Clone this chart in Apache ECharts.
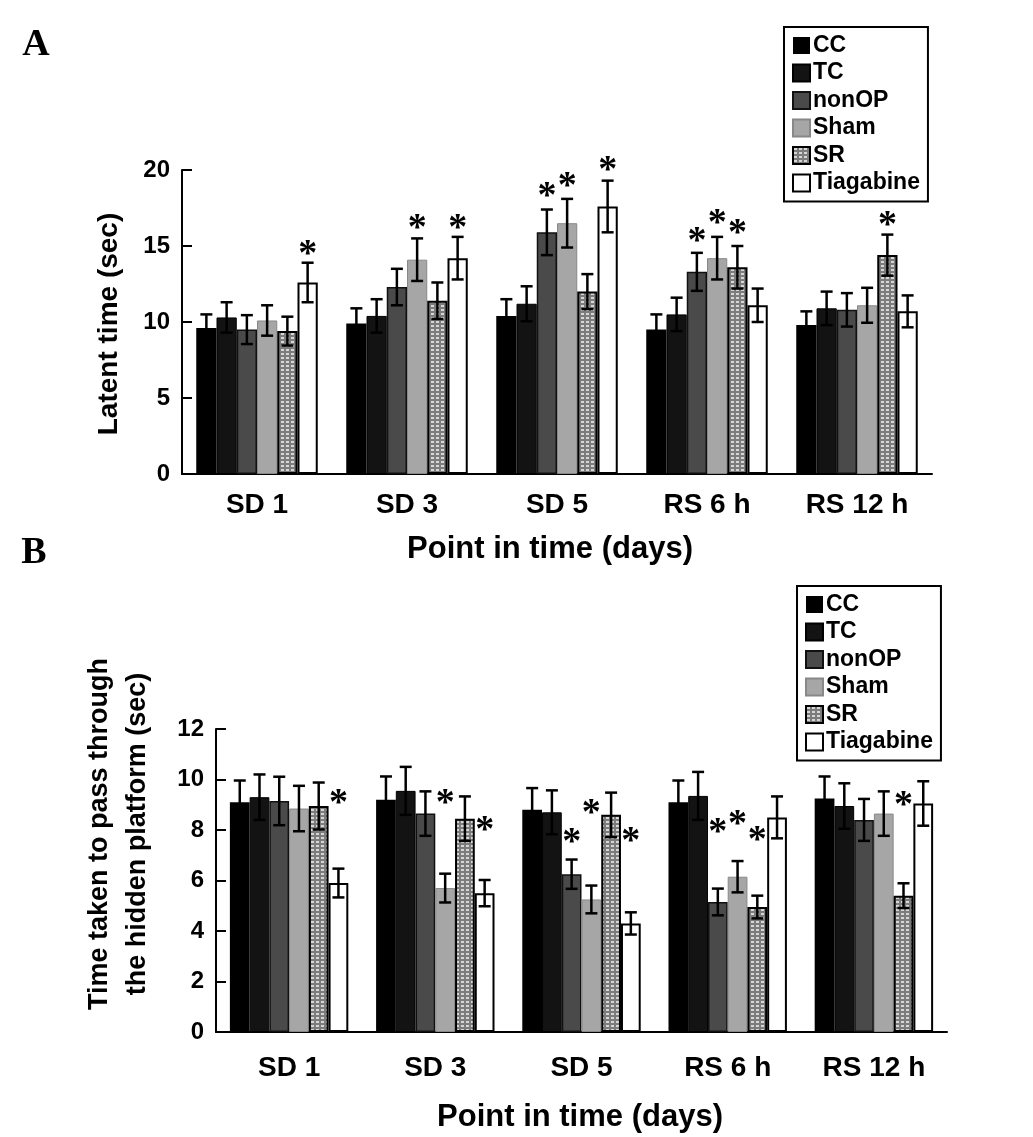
<!DOCTYPE html>
<html>
<head>
<meta charset="utf-8">
<script src="https://cdn.jsdelivr.net/npm/echarts@6/dist/echarts.min.js"></script>
<style>html,body{margin:0;padding:0;background:#fff;}#c{width:1033px;height:1137px;}</style>
</head>
<body>
<div id="c"></div>
<script>
// ---- data ----
const categories = ['SD 1', 'SD 3', 'SD 5', 'RS 6 h', 'RS 12 h'];
const groups = ['CC', 'TC', 'nonOP', 'Sham', 'SR', 'Tiagabine'];

// Panel A: latent time (sec)
const latentCC    = [9.6, 9.9, 10.4, 9.5, 9.8];
const latentTC    = [10.3, 10.4, 11.2, 10.5, 10.9];
const latentNonOP = [9.5, 12.3, 15.9, 13.3, 10.8];
const latentSham  = [10.1, 14.1, 16.5, 14.2, 11.1];
const latentSR    = [9.4, 11.4, 12.0, 13.6, 14.4];
const latentTiag  = [12.6, 14.2, 17.6, 11.1, 10.7];
const latentErrCC    = [0.9, 1.0, 1.1, 1.0, 0.9];
const latentErrTC    = [1.0, 1.1, 1.15, 1.1, 1.1];
const latentErrNonOP = [0.95, 1.2, 1.5, 1.25, 1.1];
const latentErrSham  = [1.0, 1.4, 1.6, 1.4, 1.15];
const latentErrSR    = [0.95, 1.2, 1.15, 1.4, 1.35];
const latentErrTiag  = [1.3, 1.4, 1.7, 1.1, 1.05];
// significance stars: [category index, group index, star height (sec)]
const latentStars = [[0,5,14.85],[1,3,16.56],[1,5,16.56],[2,2,18.68],[2,3,19.34],[2,5,20.39],[3,2,15.72],[3,3,16.88],[3,4,16.23],[4,4,16.78]];

// Panel B: time taken to pass through the hidden platform (sec)
const passCC    = [9.1, 9.2, 8.8, 9.1, 9.25];
const passTC    = [9.3, 9.55, 8.7, 9.35, 8.95];
const passNonOP = [9.15, 8.65, 6.25, 5.15, 8.4];
const passSham  = [8.85, 5.7, 5.25, 6.15, 8.65];
const passSR    = [8.95, 8.45, 8.6, 4.95, 5.4];
const passTiag  = [5.9, 5.5, 4.3, 8.5, 9.05];
const passErrCC    = [0.86, 0.92, 0.86, 0.86, 0.87];
const passErrTC    = [0.9, 0.95, 0.87, 0.95, 0.9];
const passErrNonOP = [0.96, 0.88, 0.58, 0.53, 0.83];
const passErrSham  = [0.9, 0.57, 0.55, 0.62, 0.88];
const passErrSR    = [0.93, 0.88, 0.88, 0.45, 0.49];
const passErrTiag  = [0.57, 0.52, 0.44, 0.83, 0.88];
const passStars = [[0,5,9.29],[1,3,9.29],[1,5,8.24],[2,2,7.74],[2,3,8.92],[2,5,7.81],[3,2,8.17],[3,3,8.47],[3,4,7.84],[4,4,9.22]];

const yTicksA = [0, 5, 10, 15, 20];
const yTicksB = [0, 2, 4, 6, 8, 10, 12];

// ---- styling ----
const FONT = '"Liberation Sans", Arial, sans-serif';
const GAP = 0.19;

const pc = document.createElement('canvas');
pc.width = 5; pc.height = 4;
const pctx = pc.getContext('2d');
pctx.fillStyle = '#7c7c7c'; pctx.fillRect(0, 0, 5, 4);
pctx.fillStyle = '#d6d6d6'; pctx.fillRect(1, 1, 3, 2);
const srPattern = { image: pc, repeat: 'repeat' };

const styles = [
  { color: '#000000', borderColor: '#000000', borderWidth: 0 },
  { color: '#131313', borderColor: '#000000', borderWidth: 1 },
  { color: '#4a4a4a', borderColor: '#111111', borderWidth: 1.5 },
  { color: '#a6a6a6', borderColor: '#888888', borderWidth: 1 },
  { color: srPattern, borderColor: '#000000', borderWidth: 2 },
  { color: '#ffffff', borderColor: '#000000', borderWidth: 2 }
];

const meansA = [latentCC, latentTC, latentNonOP, latentSham, latentSR, latentTiag];
const errsA = [latentErrCC, latentErrTC, latentErrNonOP, latentErrSham, latentErrSR, latentErrTiag];
const meansB = [passCC, passTC, passNonOP, passSham, passSR, passTiag];
const errsB = [passErrCC, passErrTC, passErrNonOP, passErrSham, passErrSR, passErrTiag];

function barX(api, c, g) {
  const center = api.coord([c, 0])[0];
  const band = api.size([1, 0])[0];
  const gw = band * (1 - GAP);
  const bw = gw / groups.length;
  return center - gw / 2 + (g + 0.5) * bw;
}

function errRender(params, api) {
  const c = api.value(0), g = api.value(1), m = api.value(2), e = api.value(3);
  const x = barX(api, c, g);
  const yT = api.coord([c, m + e])[1];
  const yB = api.coord([c, m - e])[1];
  const cap = 6;
  const st = { stroke: '#000', lineWidth: 2.5 };
  return {
    type: 'group',
    children: [
      { type: 'line', shape: { x1: x, y1: yT, x2: x, y2: yB }, style: st },
      { type: 'line', shape: { x1: x - cap, y1: yT, x2: x + cap, y2: yT }, style: st },
      { type: 'line', shape: { x1: x - cap, y1: yB, x2: x + cap, y2: yB }, style: st }
    ]
  };
}

function starRender(params, api) {
  const c = api.value(0), g = api.value(1), v = api.value(2);
  const x = barX(api, c, g);
  const y = api.coord([c, v])[1];
  return {
    type: 'text', x: x, y: y + 7,
    style: { text: '*', font: 'bold 38px "Liberation Serif", serif', fill: '#000', align: 'center', verticalAlign: 'middle' }
  };
}

function errData(means, errs) {
  const d = [];
  means.forEach((arr, g) => arr.forEach((m, c) => d.push([c, g, m, errs[g][c]])));
  return d;
}

function makeXAxis(gi, margin) {
  return {
    gridIndex: gi, type: 'category', data: categories,
    axisLine: { lineStyle: { color: '#000', width: 2 } },
    axisTick: { inside: true, length: 10, lineStyle: { color: '#000', width: 2 } },
    axisLabel: { color: '#000', fontSize: 28, fontWeight: 'bold', fontFamily: FONT, margin: margin },
    splitLine: { show: false }
  };
}
function makeYAxis(gi, ticks) {
  return {
    gridIndex: gi, type: 'value', min: ticks[0], max: ticks[ticks.length - 1], interval: ticks[1] - ticks[0],
    axisLine: { show: true, lineStyle: { color: '#000', width: 2 } },
    axisTick: { show: true, inside: true, length: 10, lineStyle: { color: '#000', width: 2 } },
    axisLabel: { color: '#000', fontSize: 24, fontWeight: 'bold', fontFamily: FONT, margin: 12 },
    splitLine: { show: false }
  };
}

const series = [];
[[meansA, errsA, latentStars, 0], [meansB, errsB, passStars, 1]].forEach(([means, errs, stars, gi]) => {
  means.forEach((arr, g) => {
    series.push({
      name: groups[g], type: 'bar', xAxisIndex: gi, yAxisIndex: gi,
      data: arr, barGap: '0%', barCategoryGap: (GAP * 100) + '%',
      itemStyle: styles[g], emphasis: { disabled: true }, z: 2
    });
  });
  series.push({
    type: 'custom', xAxisIndex: gi, yAxisIndex: gi, renderItem: errRender,
    data: errData(means, errs), encode: { x: 0, y: 2 }, z: 5, silent: true
  });
  series.push({
    type: 'custom', xAxisIndex: gi, yAxisIndex: gi, renderItem: starRender,
    data: stars, encode: { x: 0, y: 2 }, z: 6, silent: true
  });
});

function legendAt(left, top) {
  return {
    data: groups, orient: 'vertical', left: left, top: top,
    icon: 'rect', itemWidth: 17, itemHeight: 17, itemGap: 4.5,
    padding: [7, 8, 7, 8], borderColor: '#000', borderWidth: 2,
    textStyle: { color: '#000', fontSize: 23, fontWeight: 'bold', fontFamily: FONT, padding: [0, 0, 0, -2] },
    selectedMode: false
  };
}

const chart = echarts.init(document.getElementById('c'), null, { renderer: 'canvas' });
chart.setOption({
  backgroundColor: '#fff',
  animation: false,
  grid: [
    { left: 182, right: 101, top: 170, bottom: 663 },
    { left: 216, right: 86, top: 729, bottom: 105 }
  ],
  xAxis: [makeXAxis(0, 17), makeXAxis(1, 22)],
  yAxis: [makeYAxis(0, yTicksA), makeYAxis(1, yTicksB)],
  legend: [legendAt(784, 27), legendAt(797, 586)],
  series: series,
  graphic: [
    { type: 'text', x: 36, y: 45, style: { text: 'A', font: 'bold 38px "Liberation Serif", serif', fill: '#000', align: 'center', verticalAlign: 'middle' } },
    { type: 'text', x: 34, y: 553, style: { text: 'B', font: 'bold 38px "Liberation Serif", serif', fill: '#000', align: 'center', verticalAlign: 'middle' } },
    { type: 'text', x: 109, y: 324, rotation: Math.PI / 2, style: { text: 'Latent time (sec)', font: 'bold 28px ' + FONT, fill: '#000', align: 'center', verticalAlign: 'middle' } },
    { type: 'text', x: 119, y: 834, rotation: Math.PI / 2, style: { text: 'Time taken to pass through\nthe hidden platform (sec)', font: 'bold 27px ' + FONT, lineHeight: 38, fill: '#000', align: 'center', verticalAlign: 'middle' } },
    { type: 'text', x: 550, y: 549, style: { text: 'Point in time (days)', font: 'bold 31px ' + FONT, fill: '#000', align: 'center', verticalAlign: 'middle' } },
    { type: 'text', x: 580, y: 1117, style: { text: 'Point in time (days)', font: 'bold 31px ' + FONT, fill: '#000', align: 'center', verticalAlign: 'middle' } }
  ]
});
</script>
</body>
</html>
